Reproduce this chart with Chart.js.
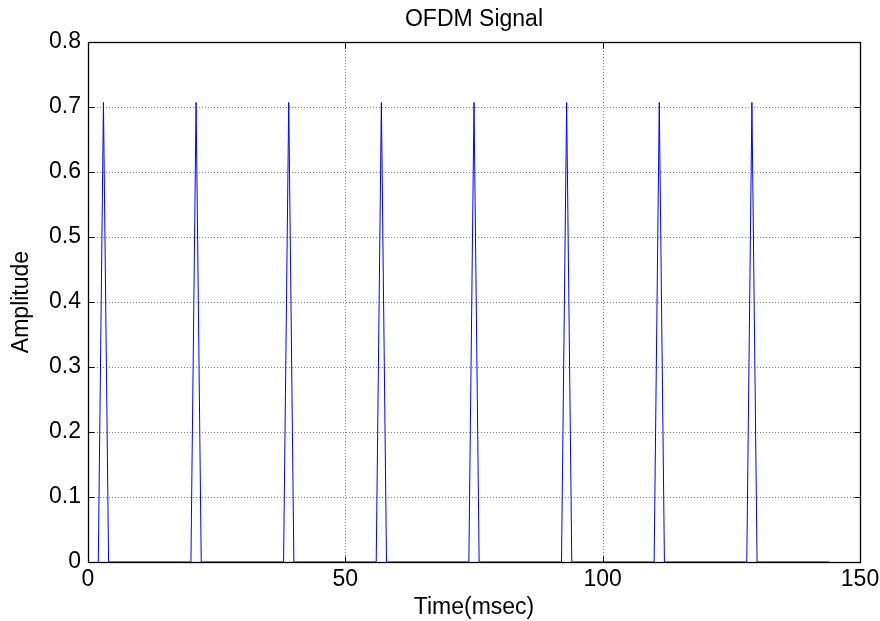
<!DOCTYPE html>
<html>
<head>
<meta charset="utf-8">
<script src="https://cdn.jsdelivr.net/npm/chart.js@4/dist/chart.umd.min.js"></script>
<style>
  html, body { margin: 0; padding: 0; background: #fff; }
  #wrap { width: 880px; height: 621px; }
</style>
</head>
<body>
<div id="wrap"><canvas id="c" width="880" height="621"></canvas></div>
<script>
// ---- data ----
const chartTitle = "OFDM Signal";
const xAxisLabel = "Time(msec)";
const yAxisLabel = "Amplitude";
const timeMs = [2, 3, 4, 20, 21, 22, 38, 39, 40, 56, 57, 58, 74, 75, 76, 92, 93, 94, 110, 111, 112, 128, 129, 130, 144];
const amplitude = [0, 0.707, 0, 0, 0.707, 0, 0, 0.707, 0, 0, 0.707, 0, 0, 0.707, 0, 0, 0.707, 0, 0, 0.707, 0, 0, 0.707, 0, 0];
const xTicks = [0, 50, 100, 150];
const yTicks = [0, 0.1, 0.2, 0.3, 0.4, 0.5, 0.6, 0.7, 0.8];

const FONT = "'Liberation Sans', Arial, sans-serif";
const FS = 23;

const points = timeMs.map((t, i) => ({ x: t, y: amplitude[i] }));

const matlabAxes = {
  id: 'matlabAxes',
  beforeDatasetsDraw(chart) {
    const { ctx, chartArea: a, scales: { x, y } } = chart;
    ctx.save();
    ctx.strokeStyle = '#7f7f7f';
    ctx.lineWidth = 1;
    ctx.setLineDash([1, 2]);
    x.ticks.forEach(t => {
      const px = Math.round(x.getPixelForValue(t.value)) + 0.5;
      if (px > a.left + 1 && px < a.right - 1) {
        ctx.beginPath(); ctx.moveTo(px, a.top); ctx.lineTo(px, a.bottom); ctx.stroke();
      }
    });
    y.ticks.forEach(t => {
      const py = Math.round(y.getPixelForValue(t.value)) + 0.5;
      if (py > a.top + 1 && py < a.bottom - 1) {
        ctx.beginPath(); ctx.moveTo(a.left, py); ctx.lineTo(a.right, py); ctx.stroke();
      }
    });
    ctx.strokeStyle = '#000';
    ctx.setLineDash([]);
    const L = Math.round(a.left) + 0.5, R = Math.round(a.right) + 0.5;
    const T = Math.round(a.top) + 0.5, B = Math.round(a.bottom) + 0.5;
    const tl = 6;
    x.ticks.forEach(t => {
      const px = Math.round(x.getPixelForValue(t.value)) + 0.5;
      ctx.beginPath(); ctx.moveTo(px, B); ctx.lineTo(px, B - tl); ctx.stroke();
      ctx.beginPath(); ctx.moveTo(px, T); ctx.lineTo(px, T + tl); ctx.stroke();
    });
    y.ticks.forEach(t => {
      const py = Math.round(y.getPixelForValue(t.value)) + 0.5;
      ctx.beginPath(); ctx.moveTo(L, py); ctx.lineTo(L + tl, py); ctx.stroke();
      ctx.beginPath(); ctx.moveTo(R, py); ctx.lineTo(R - tl, py); ctx.stroke();
    });
    ctx.lineWidth = 1.3;
    ctx.strokeRect(L, T, R - L, B - T);
    // title centered over the axes box
    ctx.fillStyle = '#000';
    ctx.font = FS + 'px ' + FONT;
    ctx.textAlign = 'center';
    ctx.textBaseline = 'middle';
    ctx.fillText(chartTitle, (a.left + a.right) / 2, 20);
    ctx.restore();
  }
};

new Chart(document.getElementById('c'), {
  type: 'line',
  data: {
    datasets: [{
      data: points,
      borderColor: '#0000ff',
      borderWidth: 1,
      pointRadius: 0,
      tension: 0,
      fill: false
    }]
  },
  options: {
    responsive: false,
    animation: false,
    events: [],
    layout: { padding: { top: 42, right: 20, left: 0, bottom: 0 } },
    plugins: { legend: { display: false }, tooltip: { enabled: false }, title: { display: false } },
    scales: {
      x: {
        type: 'linear',
        min: 0, max: 150,
        afterBuildTicks: s => { s.ticks = xTicks.map(v => ({ value: v })); },
        afterFit: s => { s.height = 59; s.paddingRight = 0; s.paddingLeft = 0; },
        grid: { display: false, drawTicks: false },
        border: { display: false },
        ticks: { color: '#000', font: { family: FONT, size: FS }, padding: 4, maxRotation: 0, autoSkip: false },
        title: { display: true, text: xAxisLabel, color: '#000', font: { family: FONT, size: FS }, padding: { top: 0, bottom: 0 } }
      },
      y: {
        type: 'linear',
        min: 0, max: 0.8,
        afterBuildTicks: s => { s.ticks = yTicks.map(v => ({ value: v })); },
        afterFit: s => { s.width = 88; s.paddingTop = 0; s.paddingBottom = 0; },
        grid: { display: false, drawTicks: false },
        border: { display: false },
        ticks: { color: '#000', font: { family: FONT, size: FS }, padding: 7, autoSkip: false,
                 callback: v => (v === 0 ? '0' : String(Math.round(v * 10) / 10)) },
        title: { display: true, text: yAxisLabel, color: '#000', font: { family: FONT, size: FS }, padding: { top: 8, bottom: 0 } }
      }
    }
  },
  plugins: [matlabAxes]
});
</script>
</body>
</html>
